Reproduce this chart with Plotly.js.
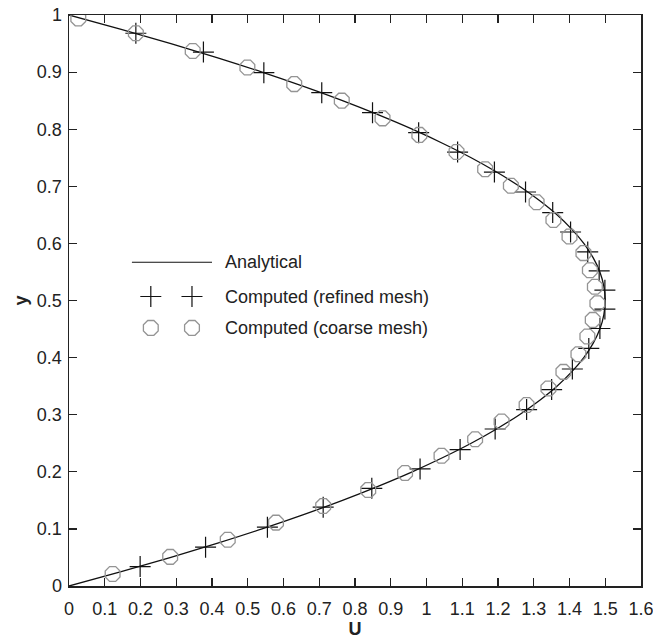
<!DOCTYPE html>
<html>
<head>
<meta charset="utf-8">
<script src="https://cdn.plot.ly/plotly-3.0.1.min.js"></script>
<style>html,body{margin:0;padding:0;background:#fff;}#chart{width:653px;height:640px;}</style>
</head>
<body>
<div id="chart"></div>
<script>
// Analytical profile
const analyticalY = [0,0.025,0.05,0.075,0.1,0.125,0.15,0.175,0.2,0.225,0.25,0.275,0.3,0.325,0.35,0.375,0.4,0.425,0.45,0.475,0.5,0.525,0.55,0.575,0.6,0.625,0.65,0.675,0.7,0.725,0.75,0.775,0.8,0.825,0.85,0.875,0.9,0.925,0.95,0.975,1];
const analyticalU = [0,0.146,0.285,0.416,0.54,0.656,0.765,0.866,0.96,1.046,1.125,1.196,1.26,1.316,1.365,1.406,1.44,1.466,1.485,1.496,1.5,1.496,1.485,1.466,1.44,1.406,1.365,1.316,1.26,1.196,1.125,1.046,0.96,0.866,0.765,0.656,0.54,0.416,0.285,0.146,0];

// Computed (refined mesh)
const refinedU = [0.199,0.382,0.555,0.711,0.847,0.982,1.094,1.192,1.280,1.350,1.408,1.454,1.485,1.499,1.499,1.483,1.451,1.403,1.353,1.277,1.190,1.087,0.978,0.849,0.707,0.545,0.376,0.187];
const refinedY = [0.034,0.068,0.103,0.138,0.171,0.205,0.239,0.275,0.309,0.344,0.380,0.416,0.451,0.485,0.518,0.552,0.585,0.620,0.654,0.690,0.725,0.760,0.794,0.829,0.864,0.899,0.935,0.968];

// Computed (coarse mesh)
const coarseU = [0.122,0.283,0.444,0.579,0.711,0.837,0.940,1.042,1.136,1.210,1.280,1.341,1.383,1.425,1.450,1.465,1.478,1.471,1.457,1.439,1.400,1.355,1.308,1.236,1.164,1.084,0.980,0.877,0.763,0.630,0.499,0.346,0.187,0.026];
const coarseY = [0.021,0.051,0.081,0.111,0.140,0.168,0.198,0.228,0.257,0.288,0.317,0.346,0.375,0.406,0.437,0.466,0.495,0.524,0.553,0.583,0.612,0.641,0.672,0.701,0.730,0.760,0.790,0.819,0.850,0.879,0.908,0.937,0.968,0.994];

const xTickVals = [0,0.1,0.2,0.3,0.4,0.5,0.6,0.7,0.8,0.9,1,1.1,1.2,1.3,1.4,1.5,1.6];
const xTickText = ["0","0.1","0.2","0.3","0.4","0.5","0.6","0.7","0.8","0.9","1","1.1","1.2","1.3","1.4","1.5","1.6"];
const yTickVals = [0,0.1,0.2,0.3,0.4,0.5,0.6,0.7,0.8,0.9,1];
const yTickText = ["0","0.1","0.2","0.3","0.4","0.5","0.6","0.7","0.8","0.9","1"];

const legendLabels = ["Analytical","Computed (refined mesh)","Computed (coarse mesh)"];

// legend layout (paper fractions)
const leg = {lineX0:0.110,lineX1:0.250,mark1:0.143,mark2:0.215,textX:0.269,rows:[0.567,0.507,0.452]};

const crossStyle = {symbol:'cross-thin-open',size:15,color:'#111',line:{color:'#111',width:1.2}};
const octStyle = {symbol:'octagon-open',size:16,color:'#949494',line:{color:'#949494',width:1.3}};

const traces = [
  {x:analyticalU,y:analyticalY,mode:'lines',line:{color:'#111',width:1.3,shape:'spline'},name:legendLabels[0],showlegend:false,hoverinfo:'skip'},
  {x:refinedU,y:refinedY,mode:'markers',marker:crossStyle,name:legendLabels[1],showlegend:false},
  {x:coarseU,y:coarseY,mode:'markers',marker:octStyle,name:legendLabels[2],showlegend:false},
  // legend symbols
  {x:[leg.mark1,leg.mark2],y:[leg.rows[1],leg.rows[1]],xaxis:'x2',yaxis:'y2',mode:'markers',marker:crossStyle,showlegend:false,hoverinfo:'skip'},
  {x:[leg.mark1,leg.mark2],y:[leg.rows[2],leg.rows[2]],xaxis:'x2',yaxis:'y2',mode:'markers',marker:octStyle,showlegend:false,hoverinfo:'skip'}
];

const FAM = '"Liberation Sans", Arial, sans-serif';
const tickFont = {family:FAM,size:18,color:'#222'};
const titleFont = {family:FAM,size:18,color:'#222',weight:'bold'};
const layout = {
  width:653,height:640,
  margin:{l:69,r:12,t:15,b:54},
  paper_bgcolor:'#fff',plot_bgcolor:'#fff',
  showlegend:false,
  font:tickFont,
  xaxis:{range:[0,1.6],tickvals:xTickVals,ticktext:xTickText,ticks:'inside',ticklen:8,tickwidth:1.2,tickcolor:'#222',
    showline:true,linecolor:'#222',linewidth:1.5,mirror:'ticks',showgrid:false,zeroline:false,tickfont:tickFont,
    ticklabelstandoff:6,ticklabeloverflow:'allow',
    title:{text:'U',font:titleFont,standoff:0}},
  yaxis:{range:[0,1],tickvals:yTickVals,ticktext:yTickText,ticks:'inside',ticklen:8,tickwidth:1.2,tickcolor:'#222',
    showline:true,linecolor:'#222',linewidth:1.5,mirror:'ticks',showgrid:false,zeroline:false,tickfont:tickFont,
    ticklabelstandoff:2,ticklabeloverflow:'allow',
    title:{text:'y',font:titleFont,standoff:4}},
  xaxis2:{overlaying:'x',range:[0,1],visible:false,fixedrange:true},
  yaxis2:{overlaying:'y',range:[0,1],visible:false,fixedrange:true},
  shapes:[{type:'line',xref:'paper',yref:'paper',x0:leg.lineX0,x1:leg.lineX1,y0:leg.rows[0],y1:leg.rows[0],line:{color:'#111',width:1.2}}],
  annotations:legendLabels.map((t,i)=>({text:t,xref:'paper',yref:'paper',x:leg.textX,y:leg.rows[i],xanchor:'left',yanchor:'middle',showarrow:false,font:{family:FAM,size:18,color:'#222'}}))
};

Plotly.newPlot('chart',traces,layout,{displayModeBar:false,staticPlot:true});
</script>
</body>
</html>
